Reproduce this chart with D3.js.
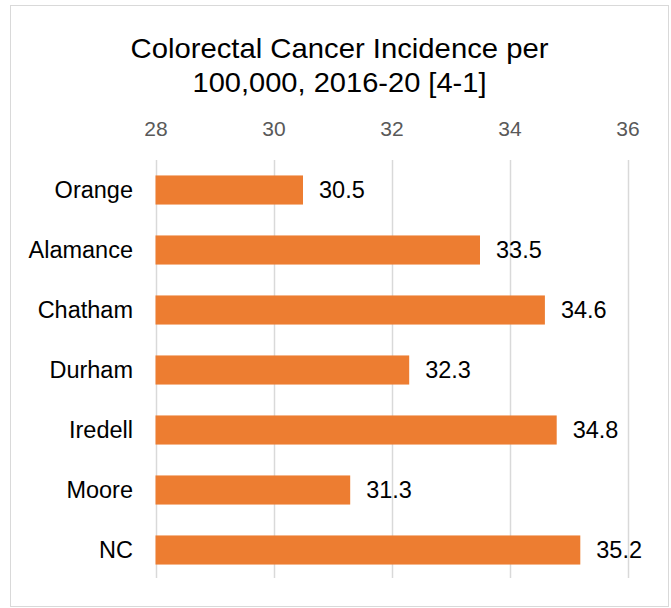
<!DOCTYPE html>
<html>
<head>
<meta charset="utf-8">
<script src="https://cdn.jsdelivr.net/npm/d3@7"></script>
<style>
  html, body { margin: 0; padding: 0; background: #fff; }
  svg { display: block; }
</style>
</head>
<body>
<svg id="chart" width="671" height="608"></svg>
<script>
// Colorectal cancer incidence per 100,000, 2016-20
const categories = ["Orange", "Alamance", "Chatham", "Durham", "Iredell", "Moore", "NC"];
const rates = [30.5, 33.5, 34.6, 32.3, 34.8, 31.3, 35.2];
const tickValues = [28, 30, 32, 34, 36];
const titleLines = ["Colorectal Cancer Incidence per", "100,000, 2016-20 [4-1]"];
const titleWidths = [418, 294];

const svg = d3.select("#chart");

// chart frame
svg.append("rect")
  .attr("x", 10.5).attr("y", 5.5)
  .attr("width", 658).attr("height", 601)
  .attr("fill", "#fff")
  .attr("stroke", "#d9d9d9").attr("stroke-width", 1);

const sans = "'Liberation Sans', Arial, sans-serif";

// title, two centred lines
svg.append("g")
  .selectAll("text")
  .data(titleLines)
  .join("text")
  .attr("x", 339.5)
  .attr("y", (d, i) => 58 + i * 34)
  .attr("text-anchor", "middle")
  .attr("font-family", sans)
  .attr("font-size", 28.5)
  .attr("fill", "#000")
  .attr("textLength", (d, i) => titleWidths[i])
  .attr("lengthAdjust", "spacingAndGlyphs")
  .text(d => d);

const x = d3.scaleLinear().domain([28, 36]).range([155.5, 627.5]);
const y = d3.scaleBand().domain(categories).range([160, 580]).paddingInner(0.515).paddingOuter(0.2575);

// gridlines
svg.append("g")
  .selectAll("line")
  .data(tickValues)
  .join("line")
  .attr("x1", d => Math.round(x(d)) + 0.5)
  .attr("x2", d => Math.round(x(d)) + 0.5)
  .attr("y1", 160).attr("y2", 578)
  .attr("stroke", "#d9d9d9").attr("stroke-width", 1.5);

// top axis labels
const axis = d3.axisTop(x).tickValues(tickValues).tickSize(0).tickPadding(0).tickFormat(d3.format("d"));
const gAxis = svg.append("g").attr("transform", "translate(0,136)").call(axis);
gAxis.select(".domain").remove();
gAxis.selectAll("text")
  .attr("font-family", sans)
  .attr("font-size", 21)
  .attr("fill", "#595959");

// bars
svg.append("g")
  .selectAll("rect")
  .data(categories)
  .join("rect")
  .attr("x", x(28))
  .attr("y", d => y(d))
  .attr("width", (d, i) => x(rates[i]) - x(28))
  .attr("height", y.bandwidth())
  .attr("fill", "#ED7D31");

// category labels
svg.append("g")
  .selectAll("text")
  .data(categories)
  .join("text")
  .attr("x", 133)
  .attr("y", d => y(d) + y.bandwidth() / 2)
  .attr("dy", "0.35em")
  .attr("text-anchor", "end")
  .attr("font-family", sans)
  .attr("font-size", 23.5)
  .attr("fill", "#000")
  .text(d => d);

// value labels
svg.append("g")
  .selectAll("text")
  .data(categories)
  .join("text")
  .attr("x", (d, i) => x(rates[i]) + 16)
  .attr("y", d => y(d) + y.bandwidth() / 2)
  .attr("dy", "0.35em")
  .attr("font-family", sans)
  .attr("font-size", 23.5)
  .attr("fill", "#000")
  .text((d, i) => rates[i].toFixed(1));
</script>
</body>
</html>
